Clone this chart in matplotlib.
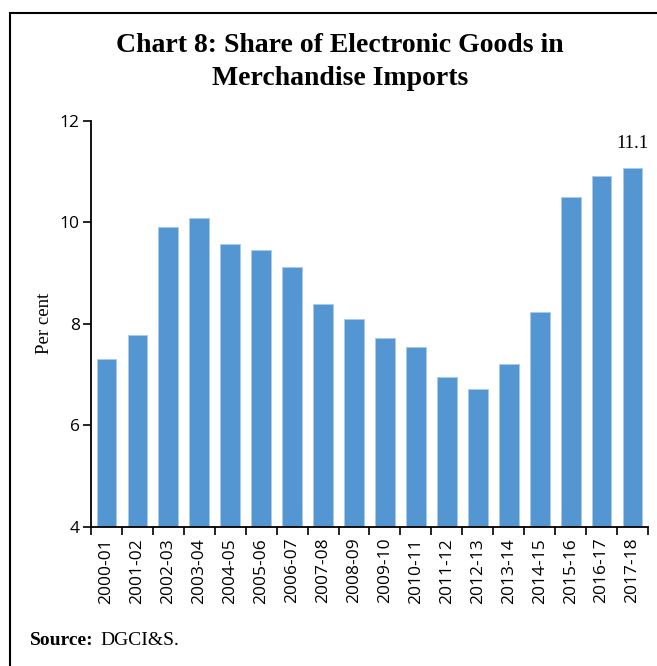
import matplotlib.pyplot as plt
import numpy as np
from matplotlib.patches import Rectangle
from matplotlib.ticker import FixedLocator

# Доля электронных товаров в импорте, %
years = ['2000-01', '2001-02', '2002-03', '2003-04', '2004-05', '2005-06',
         '2006-07', '2007-08', '2008-09', '2009-10', '2010-11', '2011-12',
         '2012-13', '2013-14', '2014-15', '2015-16', '2016-17', '2017-18']
share = [7.3, 7.78, 9.91, 10.08, 9.57, 9.46, 9.12, 8.4, 8.09, 7.72, 7.54,
         6.95, 6.72, 7.2, 8.23, 10.5, 10.91, 11.08]
y_ticks = [4, 6, 8, 10, 12]

fig = plt.figure(figsize=(6.57, 6.66), dpi=100)
ax = fig.add_axes([0.1385, 0.2092, 0.8478, 0.6091])

x = np.arange(len(years))
ax.bar(x, share, width=0.64, color='#5396D1', edgecolor='#AACBEA', linewidth=0.7)

ax.set_xlim(-0.5, len(years) - 0.5)
ax.set_ylim(4, 12)
ax.set_yticks(y_ticks)
ax.set_yticklabels([str(v) for v in y_ticks], fontfamily='Open Sans', fontsize=12.5)
ax.set_xticks(x)
ax.set_xticklabels(years, rotation=90, fontfamily='Open Sans', fontsize=12.5)
ax.xaxis.set_minor_locator(FixedLocator(np.arange(-0.5, len(years), 1.0)))
ax.tick_params(axis='x', which='major', length=0, pad=8)
ax.tick_params(axis='x', which='minor', length=6, width=1.2, color='black')
ax.tick_params(axis='y', length=6, width=1.2, pad=2)

for side in ['top', 'right']:
    ax.spines[side].set_visible(False)
for side in ['left', 'bottom']:
    ax.spines[side].set_linewidth(1.3)

ax.set_ylabel('Per cent', fontfamily='Liberation Serif', fontsize=13.5, labelpad=5)

# подпись последнего значения
ax.text(x[-1], share[-1] + 0.3, f'{share[-1]:.1f}', ha='center', va='bottom',
        fontfamily='Liberation Serif', fontsize=13.5)

fig.text(0.517, 0.907, 'Chart 8: Share of Electronic Goods in\nMerchandise Imports',
         ha='center', va='center', fontfamily='Liberation Serif',
         fontweight='bold', fontsize=20, linespacing=1.4)

fig.text(0.046, 0.038, 'Source:', ha='left', va='center',
         fontfamily='Liberation Serif', fontweight='bold', fontsize=14)
fig.text(0.153, 0.038, 'DGCI&S.', ha='left', va='center',
         fontfamily='Liberation Serif', fontsize=14)

# рамка вокруг графика
fig.patches.append(Rectangle((10 / 657, -0.05), 1.2, 1.05 - 13 / 666,
                             transform=fig.transFigure, fill=False,
                             edgecolor='black', linewidth=1.5))

fig.savefig('out.png', dpi=100)
